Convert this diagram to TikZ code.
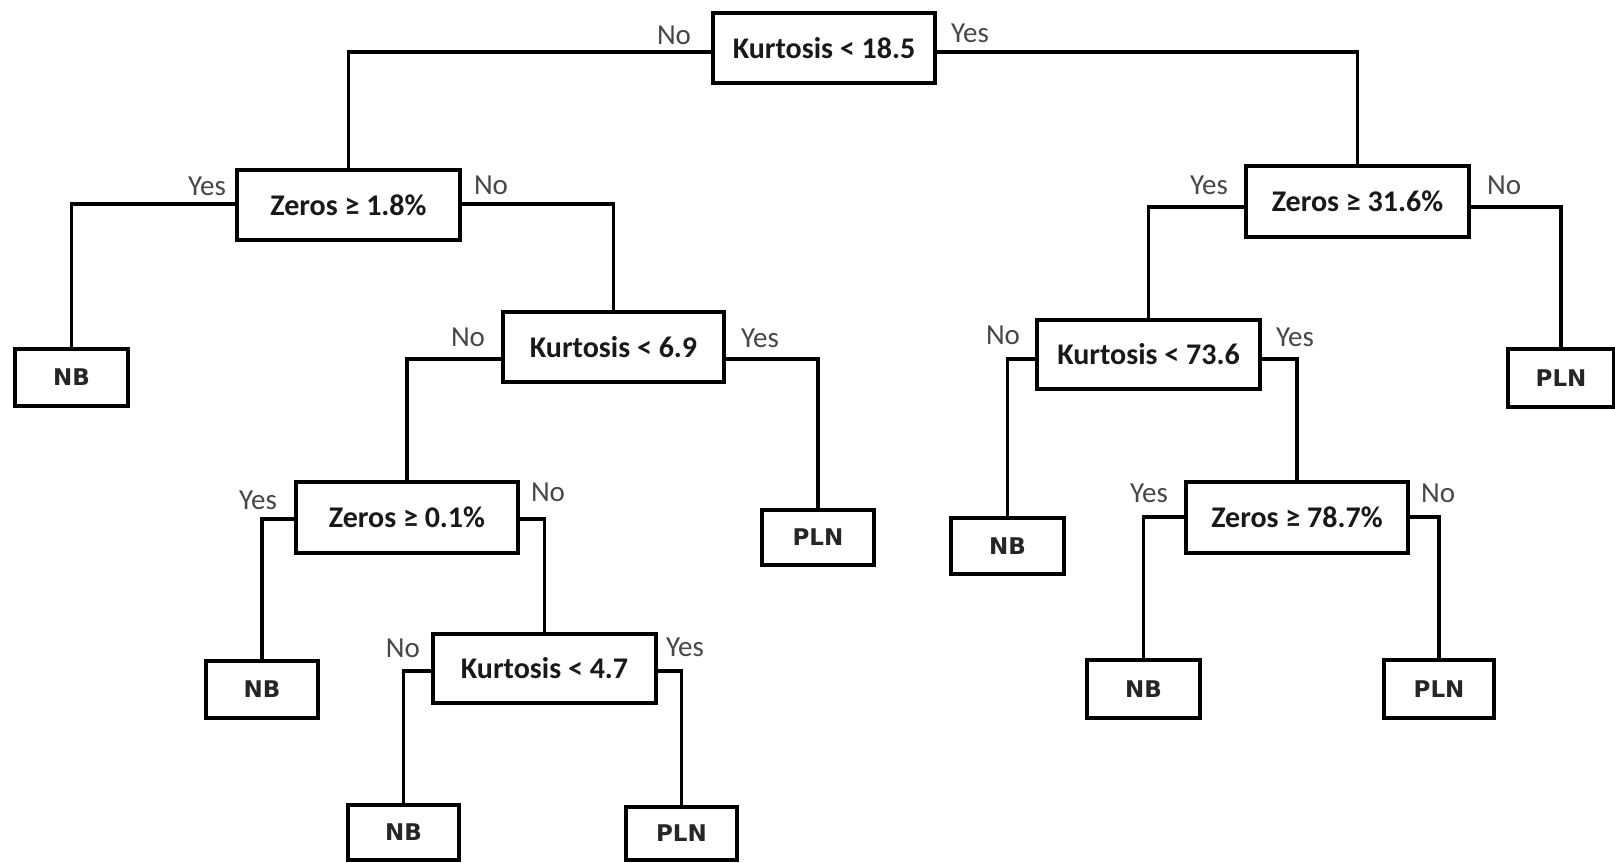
\documentclass[tikz,border=0pt]{standalone}
\usepackage{fontspec}
\setmainfont{Carlito}
\newfontfamily\leaffont{DejaVu Sans}
\begin{document}
\begin{tikzpicture}[x=0.5pt,y=-0.5pt,
  cond/.style={draw=black, line width=1.8pt, fill=white, inner sep=0pt,
    font=\bfseries\fontsize{15}{18}\selectfont, text=black!90},
  leaf/.style={draw=black, line width=1.8pt, fill=white, inner sep=0pt,
    font=\leaffont\bfseries\fontsize{11.5}{14}\selectfont, text=black!85},
  lab/.style={font=\fontsize{14.5}{17}\selectfont, text=black!72, inner sep=0pt},
  conn/.style={line width=1.8pt, line join=miter}]
\useasboundingbox (0,0) rectangle (1615,862);
\fill[white] (0,0) rectangle (1615,862);

% condition nodes
\node[cond, minimum width=111pt, minimum height=35pt] (root) at (824,48) {Kurtosis < 18.5};
\node[cond, minimum width=111.5pt, minimum height=35pt] (z18) at (348.5,205) {Zeros ≥ 1.8\%};
\node[cond, minimum width=110.5pt, minimum height=35pt] (k69) at (613.5,347) {Kurtosis < 6.9};
\node[cond, minimum width=111pt, minimum height=35.5pt] (z01) at (407,517.5) {Zeros ≥ 0.1\%};
\node[cond, minimum width=111.5pt, minimum height=34.5pt] (k47) at (544.5,668.5) {Kurtosis < 4.7};
\node[cond, minimum width=111.5pt, minimum height=35.5pt] (z316) at (1357.5,201.5) {Zeros ≥ 31.6\%};
\node[cond, minimum width=111.5pt, minimum height=34.5pt] (k736) at (1148.5,354.5) {Kurtosis < 73.6};
\node[cond, minimum width=111pt, minimum height=35.5pt] (z787) at (1297,517.5) {Zeros ≥ 78.7\%};

% leaf nodes
\node[leaf, minimum width=56.5pt, minimum height=28.5pt] (nb1) at (71.5,377.5) {NB};
\node[leaf, minimum width=56pt, minimum height=27.5pt] (pln1) at (818,537.5) {PLN};
\node[leaf, minimum width=56pt, minimum height=28.5pt] (nb2) at (262,689.5) {NB};
\node[leaf, minimum width=55.5pt, minimum height=27.5pt] (nb3) at (403.5,832.5) {NB};
\node[leaf, minimum width=55.5pt, minimum height=26.5pt] (pln3) at (681.5,833.5) {PLN};
\node[leaf, minimum width=53pt, minimum height=29pt] (pln0) at (1561,378) {PLN};
\node[leaf, minimum width=56.5pt, minimum height=28pt] (nbr) at (1007.5,546) {NB};
\node[leaf, minimum width=56.5pt, minimum height=29pt] (nb4) at (1143.5,689) {NB};
\node[leaf, minimum width=55pt, minimum height=29pt] (pln4) at (1439,689) {PLN};

% connectors
\draw[conn] (root.west |- 0,52) -| (z18.north);
\draw[conn] (root.east |- 0,52) -| (z316.north);
\draw[conn] (z18.west |- 0,204) -| (nb1.north);
\draw[conn] (z18.east |- 0,204) -| (k69.north);
\draw[conn] (k69.west |- 0,359) -| (z01.north);
\draw[conn] (k69.east |- 0,359) -| (pln1.north);
\draw[conn] (z01.west |- 0,519) -| (nb2.north);
\draw[conn] (z01.east |- 0,519) -| (k47.north);
\draw[conn] (k47.west |- 0,671) -| (nb3.north);
\draw[conn] (k47.east |- 0,671) -| (pln3.north);
\draw[conn] (z316.west |- 0,207) -| (k736.north);
\draw[conn] (z316.east |- 0,207) -| (pln0.north);
\draw[conn] (k736.west |- 0,359) -| (nbr.north);
\draw[conn] (k736.east |- 0,359) -| (z787.north);
\draw[conn] (z787.west |- 0,517) -| (nb4.north);
\draw[conn] (z787.east |- 0,517) -| (pln4.north);

% branch labels
\node[lab] (l1) at (674,35) {No};
\node[lab] (l2) at (970,33) {Yes};
\node[lab] (l3) at (207,186) {Yes};
\node[lab] (l4) at (491,185) {No};
\node[lab] (l5) at (468,337) {No};
\node[lab] (l6) at (760,338) {Yes};
\node[lab] (l7) at (258,500) {Yes};
\node[lab] (l8) at (548,492) {No};
\node[lab] (l9) at (403,648) {No};
\node[lab] (l10) at (685,647) {Yes};
\node[lab] (l11) at (1209,185) {Yes};
\node[lab] (l12) at (1504,185) {No};
\node[lab] (l13) at (1003,335) {No};
\node[lab] (l14) at (1295,337) {Yes};
\node[lab] (l15) at (1149,493) {Yes};
\node[lab] (l16) at (1438,493) {No};
\end{tikzpicture}
\end{document}
